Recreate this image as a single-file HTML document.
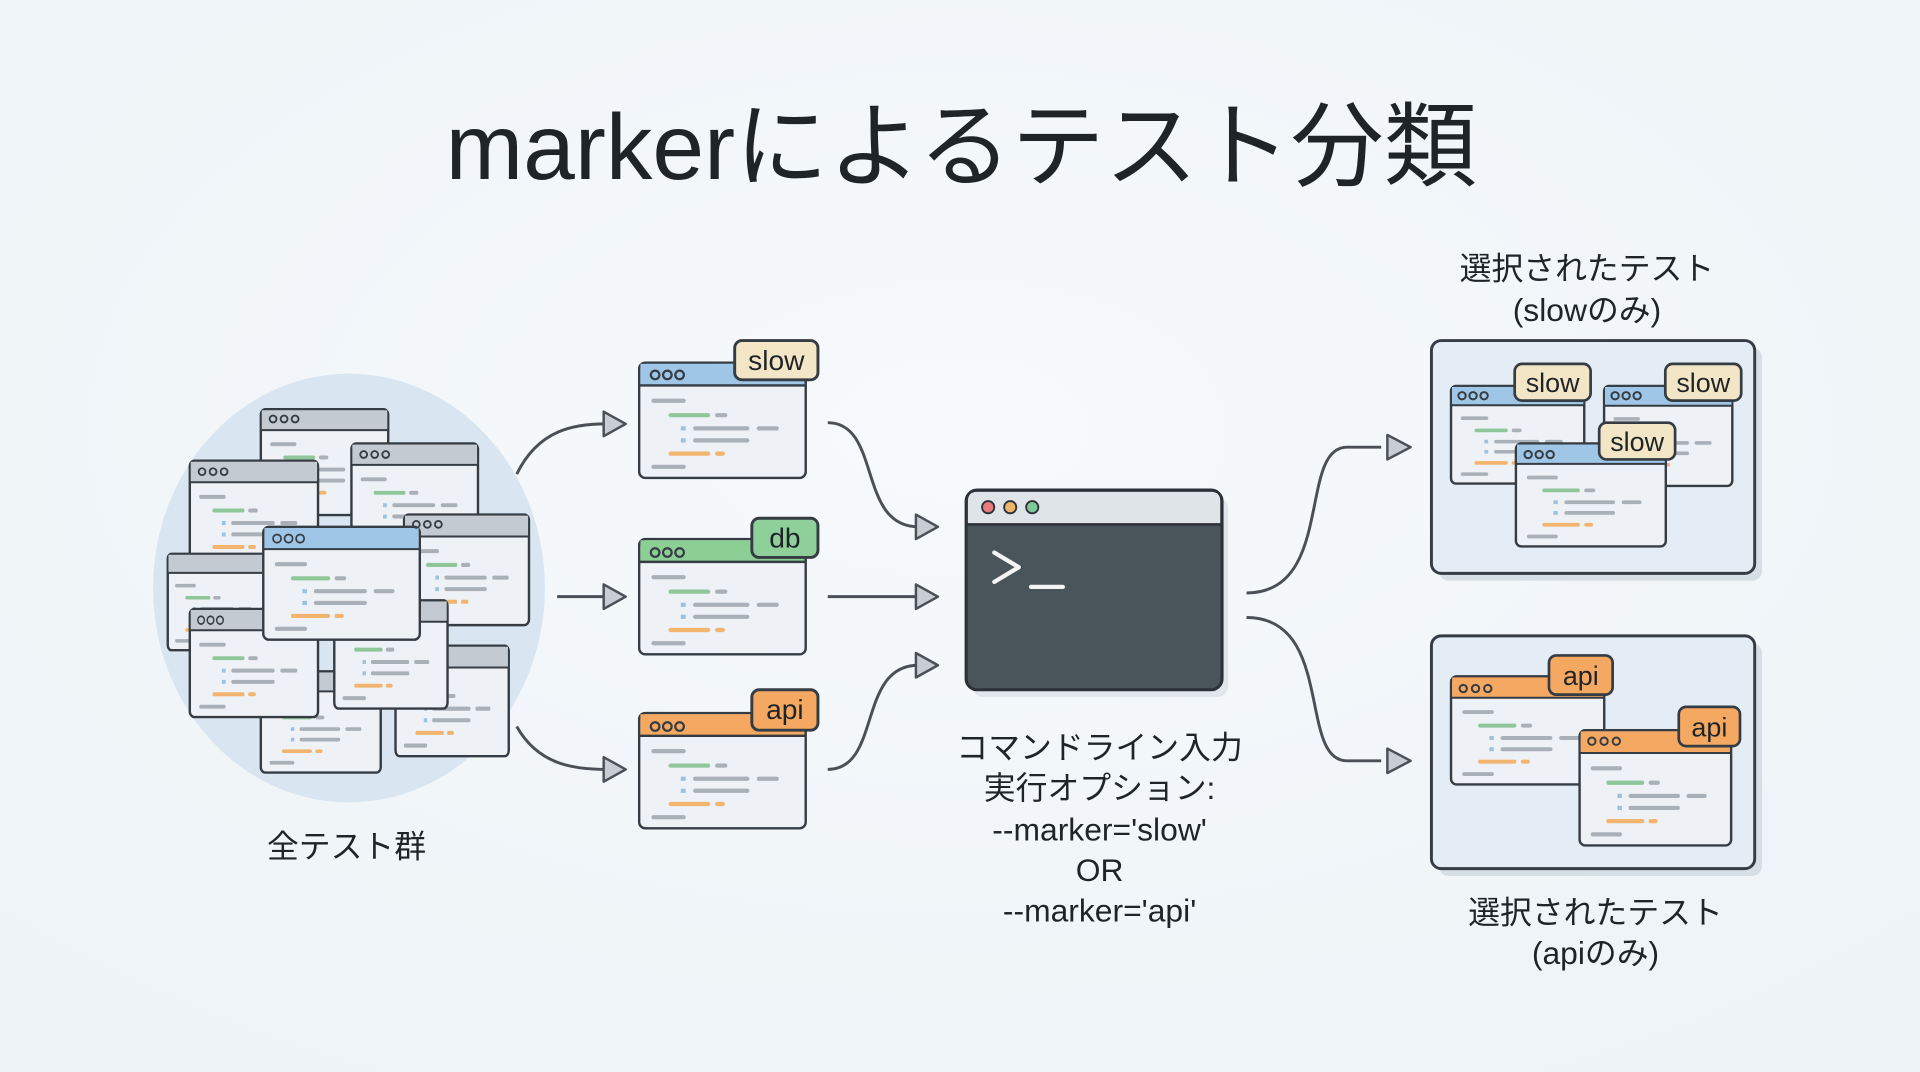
<!DOCTYPE html>
<html><head><meta charset="utf-8"><style>
html,body{margin:0;padding:0;width:1920px;height:1072px;overflow:hidden;background:#f2f6f9}
svg{display:block}
text{font-family:"Liberation Sans","Noto Sans CJK JP",sans-serif;fill:#1f2428}
</style></head><body>
<svg width="1920" height="1072" viewBox="0 0 1568 875" preserveAspectRatio="none">
<defs>
<radialGradient id="bg" cx="50%" cy="40%" r="70%"><stop offset="0" stop-color="#f7fafc"/><stop offset="1" stop-color="#edf3f7"/></radialGradient>
<g id="body">
<rect x="0" y="0" width="136" height="96" rx="5" fill="#eef1f5" stroke="#353c43" stroke-width="2.4" vector-effect="non-scaling-stroke"/>
</g>
<g id="code">
<rect x="10" y="30" width="28" height="3.5" rx="1.7" fill="#a9b0b8"/>
<rect x="24" y="42" width="34" height="3.5" rx="1.7" fill="#8fc79a"/>
<rect x="62" y="42" width="10" height="3.5" rx="1.7" fill="#a9b0b8"/>
<rect x="34" y="53" width="4" height="3.5" fill="#9cc2e2"/>
<rect x="44" y="53" width="46" height="3.5" rx="1.7" fill="#a9b0b8"/>
<rect x="96" y="53" width="18" height="3.5" rx="1.7" fill="#a9b0b8"/>
<rect x="34" y="63" width="4" height="3.5" fill="#9cc2e2"/>
<rect x="44" y="63" width="46" height="3.5" rx="1.7" fill="#a9b0b8"/>
<rect x="24" y="74" width="34" height="3.5" rx="1.7" fill="#f2b46e"/>
<rect x="62" y="74" width="8" height="3.5" rx="1.7" fill="#f2b46e"/>
<rect x="10" y="85" width="28" height="3.5" rx="1.7" fill="#a9b0b8"/>
</g>
</defs>
<rect width="1568" height="875" fill="url(#bg)"/>

<text x="785" y="146" font-size="76" text-anchor="middle">markerによるテスト分類</text>

<ellipse cx="285" cy="480" rx="160" ry="175" fill="#d9e6f1"/>
<g stroke-linejoin="round">
<g transform="translate(213,334) scale(0.765,0.9)"><use href="#body"/><rect x="1" y="1" width="134" height="18" fill="#c4cad1"/><line x1="0" y1="19" x2="136" y2="19" stroke="#353c43" stroke-width="2" vector-effect="non-scaling-stroke"/><use href="#code"/></g>
<g transform="translate(287,362) scale(0.76,0.92)"><use href="#body"/><rect x="1" y="1" width="134" height="18" fill="#c4cad1"/><line x1="0" y1="19" x2="136" y2="19" stroke="#353c43" stroke-width="2" vector-effect="non-scaling-stroke"/><use href="#code"/></g>
<g transform="translate(155,376) scale(0.77,0.93)"><use href="#body"/><rect x="1" y="1" width="134" height="18" fill="#c4cad1"/><line x1="0" y1="19" x2="136" y2="19" stroke="#353c43" stroke-width="2" vector-effect="non-scaling-stroke"/><use href="#code"/></g>
<g transform="translate(330,420) scale(0.75,0.94)"><use href="#body"/><rect x="1" y="1" width="134" height="18" fill="#c4cad1"/><line x1="0" y1="19" x2="136" y2="19" stroke="#353c43" stroke-width="2" vector-effect="non-scaling-stroke"/><use href="#code"/></g>
<g transform="translate(137,452) scale(0.6,0.82)"><use href="#body"/><rect x="1" y="1" width="134" height="18" fill="#c4cad1"/><line x1="0" y1="19" x2="136" y2="19" stroke="#353c43" stroke-width="2" vector-effect="non-scaling-stroke"/><use href="#code"/></g>
<g transform="translate(213,548) scale(0.72,0.86)"><use href="#body"/><rect x="1" y="1" width="134" height="18" fill="#c4cad1"/><line x1="0" y1="19" x2="136" y2="19" stroke="#353c43" stroke-width="2" vector-effect="non-scaling-stroke"/><use href="#code"/></g>
<g transform="translate(323,527) scale(0.68,0.94)"><use href="#body"/><rect x="1" y="1" width="134" height="18" fill="#c4cad1"/><line x1="0" y1="19" x2="136" y2="19" stroke="#353c43" stroke-width="2" vector-effect="non-scaling-stroke"/><use href="#code"/></g>
<g transform="translate(155,497) scale(0.77,0.92)"><use href="#body"/><rect x="1" y="1" width="134" height="18" fill="#c4cad1"/><line x1="0" y1="19" x2="136" y2="19" stroke="#353c43" stroke-width="2" vector-effect="non-scaling-stroke"/><circle cx="12" cy="10" r="3.5" fill="none" stroke="#353c43" stroke-width="1.5"/><circle cx="22" cy="10" r="3.5" fill="none" stroke="#353c43" stroke-width="1.5"/><circle cx="32" cy="10" r="3.5" fill="none" stroke="#353c43" stroke-width="1.5"/><use href="#code"/></g>
<g transform="translate(273,490) scale(0.68,0.92)"><use href="#body"/><rect x="1" y="1" width="134" height="18" fill="#c4cad1"/><line x1="0" y1="19" x2="136" y2="19" stroke="#353c43" stroke-width="2" vector-effect="non-scaling-stroke"/><use href="#code"/></g>
<g transform="translate(215,430) scale(0.94,0.96)"><use href="#body"/><rect x="1" y="1" width="134" height="18" fill="#9fc6e6"/><line x1="0" y1="19" x2="136" y2="19" stroke="#353c43" stroke-width="2" vector-effect="non-scaling-stroke"/><circle cx="12" cy="10" r="3.5" fill="none" stroke="#353c43" stroke-width="1.5"/><circle cx="22" cy="10" r="3.5" fill="none" stroke="#353c43" stroke-width="1.5"/><circle cx="32" cy="10" r="3.5" fill="none" stroke="#353c43" stroke-width="1.5"/><use href="#code"/></g>
</g>
<g fill="none" stroke="#353c43" stroke-width="1.5">
<circle cx="223" cy="342" r="2.8"/><circle cx="232" cy="342" r="2.8"/><circle cx="241" cy="342" r="2.8"/>
<circle cx="297" cy="371" r="2.8"/><circle cx="306" cy="371" r="2.8"/><circle cx="315" cy="371" r="2.8"/>
<circle cx="165" cy="385" r="2.8"/><circle cx="174" cy="385" r="2.8"/><circle cx="183" cy="385" r="2.8"/>
<circle cx="340" cy="428" r="2.8"/><circle cx="349" cy="428" r="2.8"/><circle cx="358" cy="428" r="2.8"/>
</g>
<text x="283" y="700" font-size="26" text-anchor="middle">全テスト群</text>

<g transform="translate(522,296) scale(1.0,0.98)"><use href="#body"/><rect x="1" y="1" width="134" height="18" fill="#9fc6e6"/><line x1="0" y1="19" x2="136" y2="19" stroke="#353c43" stroke-width="2"/><use href="#code"/></g>
<g transform="translate(522,440) scale(1.0,0.98)"><use href="#body"/><rect x="1" y="1" width="134" height="18" fill="#8ccf95"/><line x1="0" y1="19" x2="136" y2="19" stroke="#353c43" stroke-width="2"/><use href="#code"/></g>
<g transform="translate(522,582) scale(1.0,0.98)"><use href="#body"/><rect x="1" y="1" width="134" height="18" fill="#f4a862"/><line x1="0" y1="19" x2="136" y2="19" stroke="#353c43" stroke-width="2"/><use href="#code"/></g>
<g fill="none" stroke="#353c43" stroke-width="1.8">
<circle cx="535" cy="306" r="3.5"/><circle cx="545" cy="306" r="3.5"/><circle cx="555" cy="306" r="3.5"/>
<circle cx="535" cy="451" r="3.5"/><circle cx="545" cy="451" r="3.5"/><circle cx="555" cy="451" r="3.5"/>
<circle cx="535" cy="593" r="3.5"/><circle cx="545" cy="593" r="3.5"/><circle cx="555" cy="593" r="3.5"/>
</g>
<g stroke="#353c43" stroke-width="2.4">
<rect x="600" y="278" width="68" height="32" rx="6" fill="#f3e6c6"/>
<rect x="614" y="423" width="54" height="32" rx="6" fill="#8fd09a"/>
<rect x="614" y="563" width="54" height="33" rx="6" fill="#f4a862"/>
</g>
<text x="634" y="302" font-size="23" text-anchor="middle">slow</text>
<text x="641" y="447" font-size="23" text-anchor="middle">db</text>
<text x="641" y="587" font-size="23" text-anchor="middle">api</text>

<g fill="none" stroke="#4a5056" stroke-width="2.4">
<path d="M422,387 C440,350 470,346 495,346"/>
<path d="M455,487 L495,487"/>
<path d="M422,593 C440,625 470,628 495,628"/>
<path d="M676,345 C720,345 700,430 750,430"/>
<path d="M676,487 L750,487"/>
<path d="M676,628 C720,628 700,543 750,543"/>
<path d="M1018,484 C1090,484 1060,365 1100,365 L1128,365"/>
<path d="M1018,504 C1090,504 1060,621 1100,621 L1128,621"/>
</g>
<g fill="#c9cdd3" stroke="#4a5056" stroke-width="2" stroke-linejoin="round">
<path d="M493,336 L511,346 L493,356 Z"/>
<path d="M493,477 L511,487 L493,497 Z"/>
<path d="M493,618 L511,628 L493,638 Z"/>
<path d="M748,420 L766,430 L748,440 Z"/>
<path d="M748,477 L766,487 L748,497 Z"/>
<path d="M748,533 L766,543 L748,553 Z"/>
<path d="M1133,355 L1152,365 L1133,375 Z"/>
<path d="M1133,611 L1152,621 L1133,631 Z"/>
</g>

<rect x="794" y="406" width="209" height="163" rx="9" fill="#d3dbe3" opacity="0.6"/>
<rect x="789" y="400" width="209" height="163" rx="9" fill="#4a545b" stroke="#2c3238" stroke-width="2.5"/>
<path d="M790.5,428 L790.5,409 Q790.5,401.5 798,401.5 L989,401.5 Q996.5,401.5 996.5,409 L996.5,428 Z" fill="#dfe4e9"/>
<line x1="789" y1="428" x2="998" y2="428" stroke="#2c3238" stroke-width="2"/>
<circle cx="807" cy="414" r="5" fill="#e97a7a" stroke="#2c3238" stroke-width="1.5"/>
<circle cx="825" cy="414" r="5" fill="#eeb46a" stroke="#2c3238" stroke-width="1.5"/>
<circle cx="843" cy="414" r="5" fill="#7fc89a" stroke="#2c3238" stroke-width="1.5"/>
<path d="M812,451 L832,463 L812,475" fill="none" stroke="#f2f4f6" stroke-width="3.5" stroke-linecap="round" stroke-linejoin="round"/>
<line x1="842" y1="479" x2="868" y2="479" stroke="#f2f4f6" stroke-width="3.5" stroke-linecap="round"/>

<g font-size="26" text-anchor="middle">
<text x="898" y="619">コマンドライン入力</text>
<text x="898" y="652">実行オプション:</text>
<text x="898" y="686">--marker='slow'</text>
<text x="898" y="719">OR</text>
<text x="898" y="752">--marker='api'</text>
</g>

<rect x="1175" y="284" width="264" height="190" rx="8" fill="#d6dee6"/>
<rect x="1169" y="278" width="264" height="190" rx="8" fill="#e4edf5" stroke="#353c43" stroke-width="2.4"/>
<rect x="1175" y="525" width="264" height="190" rx="8" fill="#d6dee6"/>
<rect x="1169" y="519" width="264" height="190" rx="8" fill="#e4edf5" stroke="#353c43" stroke-width="2.4"/>

<g transform="translate(1185,315) scale(0.8,0.83)"><use href="#body"/><rect x="1" y="1" width="134" height="18" fill="#9fc6e6"/><line x1="0" y1="19" x2="136" y2="19" stroke="#353c43" stroke-width="2" vector-effect="non-scaling-stroke"/><use href="#code"/></g>
<g transform="translate(1310,315) scale(0.77,0.85)"><use href="#body"/><rect x="1" y="1" width="134" height="18" fill="#9fc6e6"/><line x1="0" y1="19" x2="136" y2="19" stroke="#353c43" stroke-width="2" vector-effect="non-scaling-stroke"/><use href="#code"/></g>
<g transform="translate(1238,362) scale(0.9,0.875)"><use href="#body"/><rect x="1" y="1" width="134" height="18" fill="#9fc6e6"/><line x1="0" y1="19" x2="136" y2="19" stroke="#353c43" stroke-width="2" vector-effect="non-scaling-stroke"/><use href="#code"/></g>
<g transform="translate(1185,552) scale(0.92,0.92)"><use href="#body"/><rect x="1" y="1" width="134" height="18" fill="#f4a862"/><line x1="0" y1="19" x2="136" y2="19" stroke="#353c43" stroke-width="2" vector-effect="non-scaling-stroke"/><use href="#code"/></g>
<g transform="translate(1290,596) scale(0.91,0.98)"><use href="#body"/><rect x="1" y="1" width="134" height="18" fill="#f4a862"/><line x1="0" y1="19" x2="136" y2="19" stroke="#353c43" stroke-width="2" vector-effect="non-scaling-stroke"/><use href="#code"/></g>
<g fill="none" stroke="#353c43" stroke-width="1.6">
<circle cx="1194" cy="323" r="3"/><circle cx="1203" cy="323" r="3"/><circle cx="1212" cy="323" r="3"/>
<circle cx="1319" cy="323" r="3"/><circle cx="1328" cy="323" r="3"/><circle cx="1337" cy="323" r="3"/>
<circle cx="1248" cy="371" r="3"/><circle cx="1257" cy="371" r="3"/><circle cx="1266" cy="371" r="3"/>
<circle cx="1195" cy="562" r="3"/><circle cx="1205" cy="562" r="3"/><circle cx="1215" cy="562" r="3"/>
<circle cx="1300" cy="605" r="3"/><circle cx="1310" cy="605" r="3"/><circle cx="1320" cy="605" r="3"/>
</g>
<g stroke="#353c43" stroke-width="2.2">
<rect x="1237" y="297" width="62" height="30" rx="6" fill="#f3e6c6"/>
<rect x="1360" y="297" width="62" height="30" rx="6" fill="#f3e6c6"/>
<rect x="1306" y="345" width="62" height="30" rx="6" fill="#f3e6c6"/>
<rect x="1265" y="535" width="52" height="32" rx="6" fill="#f4a862"/>
<rect x="1371" y="577" width="50" height="32" rx="6" fill="#f4a862"/>
</g>
<g font-size="22" text-anchor="middle">
<text x="1268" y="320">slow</text>
<text x="1391" y="320">slow</text>
<text x="1337" y="368">slow</text>
<text x="1291" y="559">api</text>
<text x="1396" y="601">api</text>
</g>

<g font-size="26" text-anchor="middle">
<text x="1296" y="228">選択されたテスト</text>
<text x="1296" y="262">(slowのみ)</text>
<text x="1303" y="754">選択されたテスト</text>
<text x="1303" y="787">(apiのみ)</text>
</g>
</svg>
</body></html>
